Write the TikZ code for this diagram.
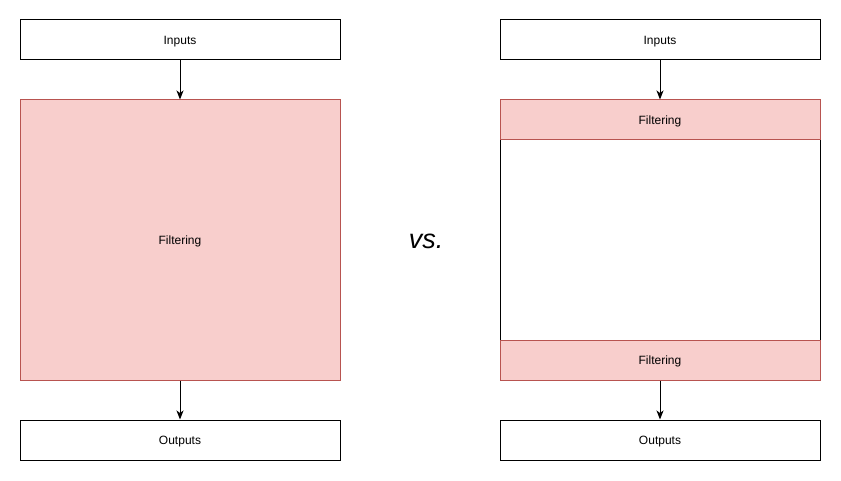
\documentclass[tikz,border=0pt]{standalone}
\usepackage{fontspec}
\setmainfont{Liberation Sans}
\usetikzlibrary{positioning,arrows.meta}
\definecolor{filterfill}{HTML}{F8CECC}
\definecolor{filterline}{HTML}{B85450}
\begin{document}
\begin{tikzpicture}[>={Stealth[length=9pt,width=7pt,inset=2.5pt]},x=1pt,y=-1pt,font=\fontsize{12}{14}\selectfont,
	box/.style={draw,fill=white,line width=1pt,minimum width=320pt,minimum height=40pt,inner sep=0pt,text height=9pt,text depth=0pt},
	filterbox/.style={box,draw=filterline,fill=filterfill}]
	\useasboundingbox (0,0) rectangle (841,481);
	% left
	\node[box] (inL) at (180,40) {Inputs};
	\node[filterbox,minimum height=280pt] (filtL) at (180,240) {Filtering};
	\node[box] (outL) at (180,440) {Outputs};
	\draw[->,line width=1pt] (inL) -- (filtL);
	\draw[->,line width=1pt] (filtL) -- (outL);
	% middle
	\node[font=\fontsize{27}{30}\selectfont\itshape] (vs) at (426,241) {vs.};
	% right
	\node[box] (inR) at (660,40) {Inputs};
	\node[box,minimum height=200pt] (midR) at (660,240) {};
	\node[filterbox] (filtTop) at (660,120) {Filtering};
	\node[filterbox] (filtBot) at (660,360) {Filtering};
	\node[box] (outR) at (660,440) {Outputs};
	\draw[->,line width=1pt] (inR) -- (filtTop);
	\draw[->,line width=1pt] (filtBot) -- (outR);
\end{tikzpicture}
\end{document}
